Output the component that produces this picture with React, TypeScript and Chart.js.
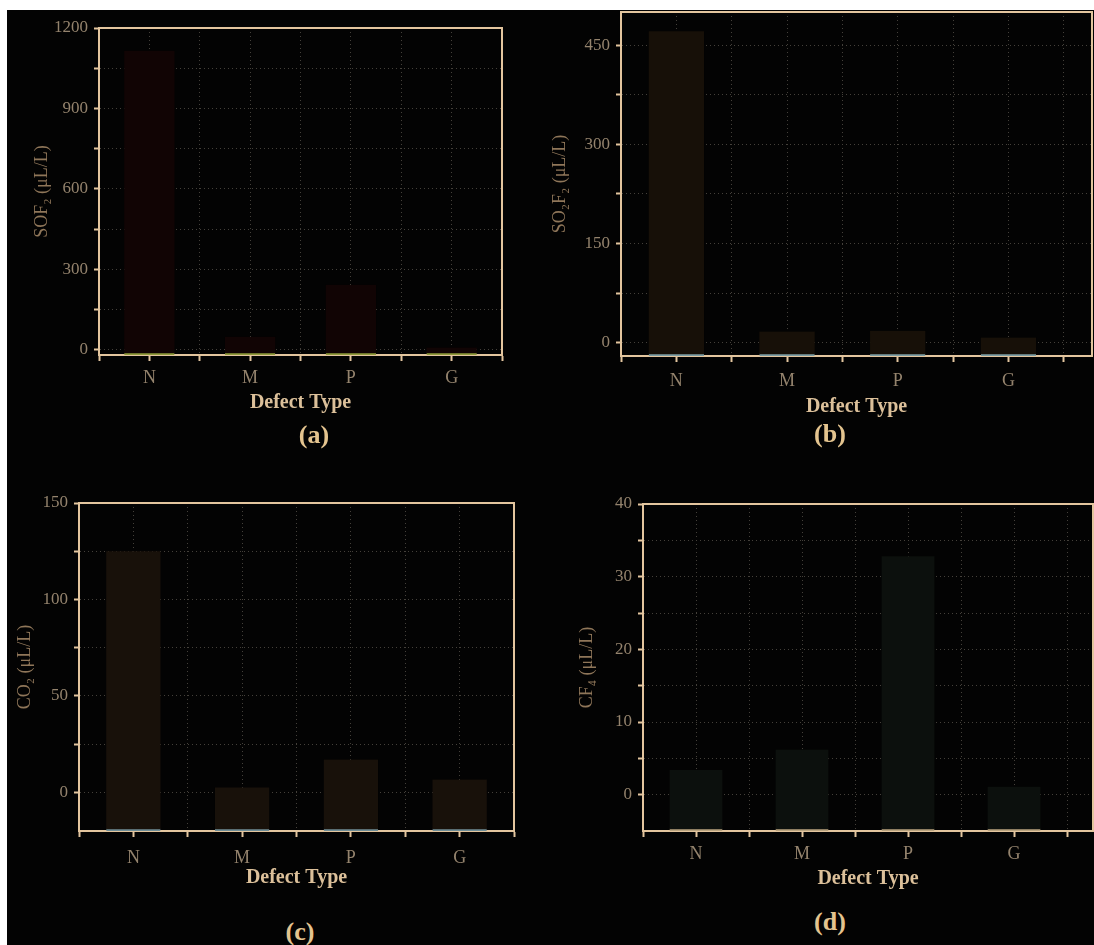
import React, { useEffect, useRef } from 'react';
import { Chart, registerables } from 'chart.js';

Chart.register(...registerables);

// ---- data ----
const categories = ['N', 'M', 'P', 'G'];
const sof2Values = [1115, 48, 242, 8];
const so2f2Values = [471, 17, 18, 8];
const co2Values = [125, 2.6, 17, 6.7];
const cf4Values = [3.4, 6.2, 32.8, 1.1];

// labelled (major) y ticks for each panel
const sof2Ticks = [0, 300, 600, 900, 1200];
const so2f2Ticks = [0, 150, 300, 450];
const co2Ticks = [0, 50, 100, 150];
const cf4Ticks = [0, 10, 20, 30, 40];

// ---- style ----
const FONT = "'Liberation Serif', 'Times New Roman', serif";
const AXIS = '#e3c59e';
const TICK_TXT = '#94836d';
const YTITLE_TXT = '#8f7659';
const XTITLE_TXT = '#dcc09a';
const PANEL_TXT = '#e4c48f';
const GRID = '#44403a';

const YW = 72;
const TP = 24;
const RP = 14;
const XH = 72;

type PanelProps = {
  left: number;
  top: number;
  right: number;
  bottom: number;
  xMax: number;
  values: number[];
  majorTicks: number[];
  yMin: number;
  yMax: number;
  yTitle: string;
  titlePad: number;
  barColor: string;
  baseColor: string;
  xLabelPad: number;
  xTitlePad: number;
};

const framePlugin = {
  id: 'frame',
  afterDatasetsDraw(chart: any) {
    const { ctx, chartArea: a } = chart;
    ctx.save();
    ctx.strokeStyle = AXIS;
    ctx.lineWidth = 2;
    ctx.beginPath();
    ctx.moveTo(a.left, a.top);
    ctx.lineTo(a.right, a.top);
    ctx.lineTo(a.right, a.bottom);
    ctx.stroke();
    ctx.restore();
  },
};

function Panel(p: PanelProps) {
  const ref = useRef<HTMLCanvasElement | null>(null);
  const cLeft = p.left - YW;
  const cTop = p.top - TP;
  const width = p.right - p.left + YW + RP;
  const height = p.bottom - p.top + TP + XH;

  useEffect(() => {
    if (!ref.current) return;
    const minorY: number[] = [];
    for (let i = 0; i < p.majorTicks.length; i++) {
      minorY.push(p.majorTicks[i]);
      if (i < p.majorTicks.length - 1) minorY.push((p.majorTicks[i] + p.majorTicks[i + 1]) / 2);
    }
    const xTickVals: number[] = [];
    for (let i = 0; i < categories.length; i++) {
      xTickVals.push(i + 0.5, i + 1);
    }
    xTickVals.push(categories.length + 0.5);

    const chart = new Chart(ref.current, {
      type: 'bar',
      data: {
        datasets: [
          {
            data: p.values.map((v, i) => ({ x: i + 1, y: v })),
            backgroundColor: p.barColor,
            borderColor: p.baseColor,
            borderWidth: { top: 0, left: 0, right: 0, bottom: 2 },
            borderSkipped: false,
            base: p.yMin,
            barPercentage: 1,
            categoryPercentage: 1,
          } as any,
        ],
      },
      options: {
        responsive: false,
        animation: false,
        devicePixelRatio: 1,
        layout: { padding: { top: TP, right: RP, left: 0, bottom: 0 } },
        plugins: { legend: { display: false }, tooltip: { enabled: false } },
        scales: {
          x: {
            type: 'linear',
            offset: false,
            min: 0.5,
            max: p.xMax,
            afterBuildTicks: (axis: any) => {
              axis.ticks = xTickVals.map((v) => ({ value: v }));
            },
            afterFit: (axis: any) => {
              axis.height = XH;
            },
            ticks: {
              autoSkip: false,
              maxRotation: 0,
              padding: p.xLabelPad,
              color: TICK_TXT,
              font: { family: FONT, size: 18 },
              callback: (v: any) => (Number.isInteger(v) ? categories[v - 1] : ''),
            },
            grid: {
              offset: false,
              color: GRID,
              lineWidth: 1,
              drawTicks: true,
              tickLength: 6,
              tickColor: AXIS,
              tickWidth: 2,
            },
            border: { color: AXIS, width: 2, dash: [1, 3] },
            title: {
              display: true,
              text: 'Defect Type',
              color: XTITLE_TXT,
              font: { family: FONT, size: 20, weight: 'bold' },
              padding: { top: 0, bottom: p.xTitlePad },
            },
          },
          y: {
            min: p.yMin,
            max: p.yMax,
            afterBuildTicks: (axis: any) => {
              axis.ticks = minorY.map((v) => ({ value: v }));
            },
            afterFit: (axis: any) => {
              axis.width = YW;
            },
            ticks: {
              padding: 6,
              color: TICK_TXT,
              font: { family: FONT, size: 17 },
              callback: (v: any) => (p.majorTicks.includes(v) ? String(v) : ''),
            },
            grid: {
              color: GRID,
              lineWidth: 1,
              drawTicks: true,
              tickLength: 5,
              tickColor: AXIS,
              tickWidth: 2,
            },
            border: { color: AXIS, width: 2, dash: [1, 3] },
            title: {
              display: true,
              text: p.yTitle,
              color: YTITLE_TXT,
              font: { family: FONT, size: 18 },
              padding: { top: p.titlePad, bottom: 0 },
            },
          },
        },
      } as any,
      plugins: [framePlugin],
    });
    return () => chart.destroy();
  }, []);

  return (
    <canvas
      ref={ref}
      width={width}
      height={height}
      style={{ position: 'absolute', left: cLeft, top: cTop, width, height }}
    />
  );
}

function PanelLabel({ text, x, y }: { text: string; x: number; y: number }) {
  return (
    <div
      style={{
        position: 'absolute',
        left: x,
        top: y,
        transform: 'translate(-50%, -50%)',
        fontFamily: FONT,
        fontWeight: 'bold',
        fontSize: 26,
        lineHeight: 1,
        color: PANEL_TXT,
        whiteSpace: 'nowrap',
      }}
    >
      {text}
    </div>
  );
}

export default function App() {
  return (
    <div
      style={{
        position: 'absolute',
        left: 0,
        top: 0,
        width: 1094,
        height: 945,
        overflow: 'hidden',
        background: '#ffffff',
      }}
    >
      <div
        style={{
          position: 'absolute',
          left: 7,
          top: 10,
          width: 1087,
          height: 935,
          background: '#030303',
        }}
      />
      <Panel
        left={99}
        top={28}
        right={502}
        bottom={355}
        xMax={4.5}
        values={sof2Values}
        majorTicks={sof2Ticks}
        yMin={-20}
        yMax={1200}
        yTitle="SOF₂ (μL/L)"
        titlePad={4}
        barColor="#110404"
        baseColor="#8e9a3a"
        xLabelPad={6}
        xTitlePad={12}
      />
      <Panel
        left={621}
        top={12}
        right={1092}
        bottom={356}
        xMax={4.755}
        values={so2f2Values}
        majorTicks={so2f2Ticks}
        yMin={-20}
        yMax={500}
        yTitle="SO₂F₂ (μL/L)"
        titlePad={0}
        barColor="#171008"
        baseColor="#7d9ea4"
        xLabelPad={8}
        xTitlePad={9}
      />
      <Panel
        left={79}
        top={503}
        right={514}
        bottom={831}
        xMax={4.5}
        values={co2Values}
        majorTicks={co2Ticks}
        yMin={-20}
        yMax={150}
        yTitle="CO₂ (μL/L)"
        titlePad={7}
        barColor="#18110a"
        baseColor="#6f8d96"
        xLabelPad={10}
        xTitlePad={13}
      />
      <Panel
        left={643}
        top={504}
        right={1093}
        bottom={831}
        xMax={4.745}
        values={cf4Values}
        majorTicks={cf4Ticks}
        yMin={-5}
        yMax={40}
        yTitle="CF₄ (μL/L)"
        titlePad={5}
        barColor="#0c100d"
        baseColor="#b8a27e"
        xLabelPad={6}
        xTitlePad={12}
      />
      <PanelLabel text="(a)" x={314} y={435} />
      <PanelLabel text="(b)" x={830} y={434} />
      <PanelLabel text="(c)" x={300} y={932} />
      <PanelLabel text="(d)" x={830} y={922} />
    </div>
  );
}
